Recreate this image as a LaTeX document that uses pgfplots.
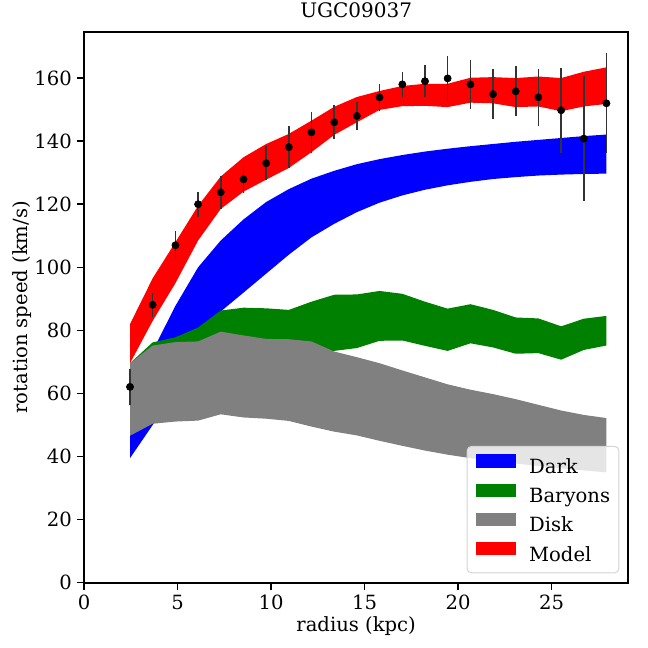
\documentclass[border=0pt]{standalone}
\usepackage{fontspec}
\setmainfont{DejaVu Serif}
\usepackage{pgfplots}
\usepackage{pgfplotstable}
\pgfplotsset{compat=1.18}
\usepgfplotslibrary{fillbetween}

\pgfplotstableread{
x lo hi
2.46 39.5 58
3.67 50 73.5
4.89 62 87.8
6.10 75 100
7.31 86 108.5
8.53 92 115.2
9.74 98 120.7
10.95 104 124.8
12.16 109.5 128.1
13.38 113.8 130.6
14.59 117.5 132.7
15.80 120.5 134.3
17.02 122.8 135.6
18.23 124.6 136.7
19.44 126 137.6
20.66 127.1 138.4
21.87 128 139.1
23.08 128.6 139.8
24.29 129.1 140.4
25.51 129.4 141
26.72 129.6 141.6
27.93 129.7 142.1
}\dark

\pgfplotstableread{
x lo hi
2.46 53.2 69.6
3.67 55.5 76.2
4.89 58 77.8
6.10 61 80.9
7.31 64.9 86.3
8.53 65.5 87.2
9.74 65.7 87.0
10.95 65.8 86.5
12.16 69.5 89.1
13.38 73.5 91.3
14.59 74.4 91.4
15.80 76.7 92.5
17.02 76.8 91.6
18.23 75.1 89.1
19.44 73.5 86.9
20.66 75.9 88.3
21.87 74.6 86.5
23.08 72.6 84.1
24.29 72.8 83.8
25.51 70.7 81.3
26.72 73.8 83.7
27.93 75.2 84.6
}\baryons

\pgfplotstableread{
x lo hi
2.46 46.6 69.6
3.67 50.4 75.2
4.89 51.1 76.3
6.10 51.4 76.5
7.31 53.4 79.6
8.53 52.4 78.4
9.74 52.0 77.3
10.95 51.3 77.2
12.16 49.5 76.5
13.38 47.9 73.3
14.59 46.7 71.5
15.80 45.0 69.6
17.02 43.4 67.3
18.23 41.9 65.1
19.44 40.6 62.9
20.66 39.5 61.2
21.87 38.6 59.8
23.08 37.8 58.2
24.29 37.0 56.4
25.51 36.3 54.6
26.72 35.6 53.2
27.93 35.0 52.2
}\disk

\pgfplotstableread{
x lo hi
2.46 69.6 82
3.67 83 96.5
4.89 95 108
6.10 108.5 119.5
7.31 118.5 128.8
8.53 124 134.9
9.74 127.8 139.1
10.95 131.5 142.3
12.16 136.5 146.5
13.38 142 150.9
14.59 146 154
15.80 149.9 155.9
17.02 151.1 157.5
18.23 151.2 158.2
19.44 150.8 158.2
20.66 152.2 160.1
21.87 152 160.3
23.08 150.8 160
24.29 151 160.5
25.51 149.5 160
26.72 151 162
27.93 151.8 163.4
}\model

\pgfplotstableread{
x y e
2.46 62.1 5.7
3.67 88.1 3.7
4.89 107.0 4.4
6.10 120.0 4.0
7.31 123.8 5.2
8.53 127.9 4.2
9.74 133.0 5.4
10.95 138.1 6.7
12.16 142.8 6.5
13.38 146.0 5.4
14.59 148.0 4.4
15.80 153.9 4.2
17.02 158.0 3.9
18.23 159.0 5.0
19.44 159.9 7.2
20.66 158.0 7.7
21.87 154.9 8.0
23.08 155.8 7.9
24.29 153.9 9.1
25.51 149.8 13.4
26.72 140.8 19.9
27.93 152.0 15.9
}\obs

\definecolor{mgreen}{HTML}{008000}
\definecolor{mgray}{HTML}{808080}

\newcommand{\fs}{\fontsize{14.1}{17}\selectfont}

\pgfplotsset{patchleg/.style={legend image code/.code={\fill[##1, sharp corners, fill opacity=1, draw=none] (0pt,0.3pt) rectangle (28.8pt,9.9pt);}}}

\begin{document}
\begin{tikzpicture}
\begin{axis}[
  name=ax, at={(0,0)}, anchor=south west,
  scale only axis, width=391.9pt, height=396.5pt,
  xmin=0, xmax=29.1, ymin=0, ymax=174.6,
  xtick={0,5,...,25}, ytick={0,20,...,160},
  tick align=outside, tick pos=left,
  major tick length=5.3pt,
  tick style={line width=1.1pt, black},
  axis line style={line width=1.2pt},
  /pgf/number format/assume math mode=true,
  tick label style={font=\fs},
  title={UGC09037},
  title style={font=\fontsize{14.4}{17}\selectfont, at={(axis description cs:0.5,1)}, anchor=base, yshift=4.2pt},
  xlabel={radius (kpc)},
  xlabel style={font=\fs, at={(axis description cs:0.5,0)}, anchor=base, yshift=-35.3pt},
  ylabel={rotation speed (km/s)},
  ylabel style={font=\fs, at={(axis description cs:0,0.5)}, rotate=0, anchor=base, yshift=40.5pt},
  legend cell align=left,
  legend style={at={(axis description cs:0.9835,0.0171)}, anchor=south east,
    draw=black!17, line width=0.7pt, rounded corners=3pt,
    fill=white, fill opacity=0.8, draw opacity=1, text opacity=1,
    font=\fs, inner xsep=6.3pt, inner ysep=5.6pt,
    row sep=4.6pt,
    nodes={inner sep=0pt, text height=10.3pt, text depth=2.9pt},
    /tikz/every odd column/.append style={column sep=9.5pt}},
]
\addplot[draw=none, forget plot, name path=dh] table[x=x,y=hi]{\dark};
\addplot[draw=none, forget plot, name path=dl] table[x=x,y=lo]{\dark};
\addplot[blue, draw=none, patchleg] fill between[of=dh and dl];
\addlegendentry{Dark}

\addplot[draw=none, forget plot, name path=bh] table[x=x,y=hi]{\baryons};
\addplot[draw=none, forget plot, name path=bl] table[x=x,y=lo]{\baryons};
\addplot[mgreen, draw=none, patchleg] fill between[of=bh and bl];
\addlegendentry{Baryons}

\addplot[draw=none, forget plot, name path=gh] table[x=x,y=hi]{\disk};
\addplot[draw=none, forget plot, name path=gl] table[x=x,y=lo]{\disk};
\addplot[mgray, draw=none, patchleg] fill between[of=gh and gl];
\addlegendentry{Disk}

\addplot[draw=none, forget plot, name path=mh] table[x=x,y=hi]{\model};
\addplot[draw=none, forget plot, name path=ml] table[x=x,y=lo]{\model};
\addplot[red, draw=none, patchleg] fill between[of=mh and ml];
\addlegendentry{Model}

\addplot[forget plot, only marks, mark=*, mark size=2.6pt, black,
  error bars/.cd, y dir=both, y explicit, error mark=none,
  error bar style={line width=1.2pt, black!80}]
  table[x=x, y=y, y error=e]{\obs};
\end{axis}
\pgfresetboundingbox
\path (ax.south west) ++(-60.48pt,-47.0pt) rectangle ++(466.56pt,466.56pt);
\end{tikzpicture}
\end{document}
